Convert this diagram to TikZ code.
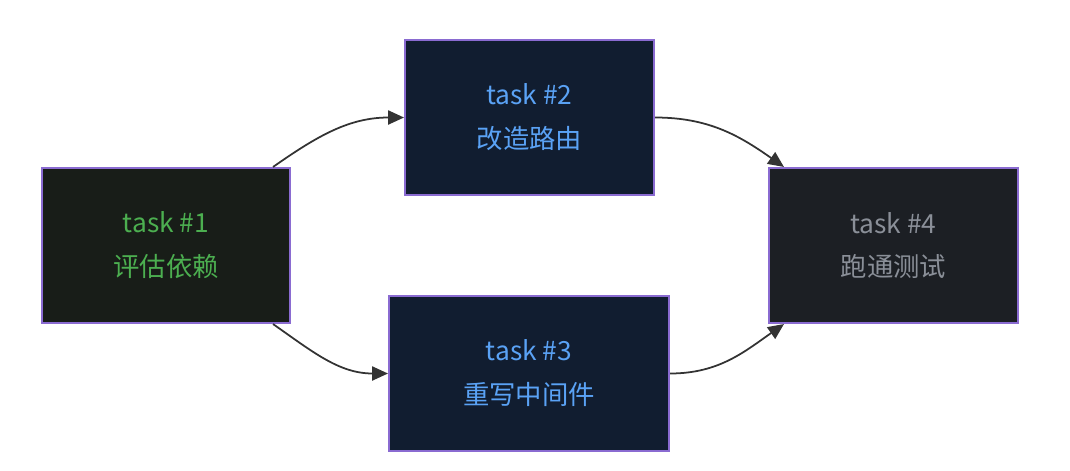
\documentclass[tikz,border=0pt]{standalone}
\usepackage{fontspec}
\setmainfont{Noto Sans CJK SC}
\usetikzlibrary{arrows.meta}
\definecolor{edgeclr}{HTML}{333333}
\definecolor{borderclr}{HTML}{8A6BD1}
\definecolor{donefill}{HTML}{181D18}
\definecolor{donetext}{HTML}{4CAF50}
\definecolor{runfill}{HTML}{111D30}
\definecolor{runtext}{HTML}{5AA2F5}
\definecolor{waitfill}{HTML}{1C1F24}
\definecolor{waittext}{HTML}{8A8F98}
\tikzset{
  task/.style={draw=borderclr, line width=1.2pt, minimum height=3.1cm,
    align=center, font=\fontsize{15}{25}\selectfont},
  flow/.style={draw=edgeclr, line width=1pt, -{Triangle[length=9pt,width=8pt]}}
}
\begin{document}
\begin{tikzpicture}[x=0.02cm,y=-0.02cm]
\useasboundingbox (0,0) rectangle (1070,470);
%knoten
\node[task, fill=donefill, text=donetext, minimum width=4.96cm] (t1) at (166,245.5) {task \#1\\评估依赖};
\node[task, fill=runfill, text=runtext, minimum width=4.98cm] (t2) at (529.5,117.5) {task \#2\\改造路由};
\node[task, fill=runfill, text=runtext, minimum width=5.6cm] (t3) at (529,373.5) {task \#3\\重写中间件};
\node[task, fill=waitfill, text=waittext, minimum width=4.98cm] (t4) at (893.5,245.5) {task \#4\\跑通测试};

%povezave
\draw[flow] ([xshift=-0.36cm]t1.north east) to[out=35,in=180] (t2.west);
\draw[flow] ([xshift=-0.36cm]t1.south east) to[out=-35,in=180] (t3.west);
\draw[flow] (t2.east) to[out=0,in=145] ([xshift=0.32cm]t4.north west);
\draw[flow] (t3.east) to[out=0,in=-145] ([xshift=0.32cm]t4.south west);
\end{tikzpicture}
\end{document}
